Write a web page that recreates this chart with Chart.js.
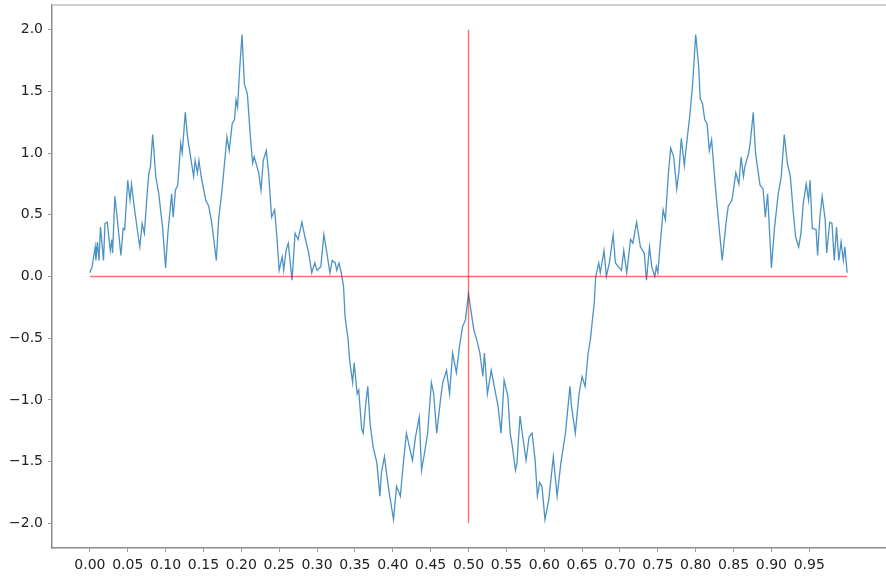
<!DOCTYPE html>
<html>
<head>
<meta charset="utf-8">
<script src="https://cdn.jsdelivr.net/npm/chart.js@4/dist/chart.umd.min.js"></script>
<style>
  html, body { margin: 0; padding: 0; background: #fff; }
  #wrap { width: 886px; height: 578px; }
</style>
</head>
<body>
<div id="wrap"><canvas id="curve"></canvas></div>
<script>
// curve points (x, y)
var curveX = [
  0.000,0.003,0.007,0.008,0.010,0.012,0.014,0.018,0.020,0.023,0.027,0.029,0.030,0.033,0.036,0.041,0.044,0.046,0.050,0.053,
  0.055,0.058,0.064,0.066,0.069,0.072,0.076,0.078,0.080,0.083,0.087,0.091,0.096,0.100,0.103,0.108,0.110,0.113,0.116,0.120,
  0.122,0.126,0.129,0.133,0.137,0.139,0.142,0.144,0.147,0.153,0.157,0.161,0.167,0.170,0.175,0.181,0.184,0.188,0.191,0.193,
  0.195,0.198,0.201,0.204,0.208,0.212,0.215,0.217,0.223,0.226,0.229,0.233,0.236,0.240,0.244,0.247,0.250,0.254,0.256,0.259,
  0.262,0.267,0.271,0.275,0.280,0.284,0.289,0.293,0.297,0.300,0.305,0.309,0.313,0.317,0.320,0.324,0.326,0.329,0.332,0.335,
  0.337,0.341,0.343,0.347,0.349,0.353,0.355,0.359,0.361,0.364,0.367,0.370,0.374,0.379,0.383,0.385,0.389,0.393,0.396,0.401,
  0.405,0.410,0.414,0.418,0.422,0.426,0.430,0.435,0.438,0.442,0.446,0.451,0.454,0.458,0.463,0.466,0.471,0.475,0.479,0.484,
  0.488,0.492,0.496,0.500,0.505,0.507,0.512,0.515,0.519,0.521,0.525,0.530,0.534,0.539,0.543,0.547,0.552,0.555,0.558,0.562,
  0.564,0.568,0.571,0.576,0.580,0.584,0.588,0.591,0.594,0.597,0.601,0.606,0.612,0.617,0.622,0.628,0.634,0.636,0.641,0.646,
  0.650,0.654,0.658,0.661,0.664,0.666,0.668,0.672,0.674,0.679,0.682,0.686,0.691,0.694,0.698,0.702,0.705,0.709,0.714,0.717,
  0.722,0.727,0.732,0.735,0.739,0.742,0.746,0.748,0.750,0.754,0.757,0.760,0.764,0.767,0.771,0.775,0.778,0.781,0.785,0.789,
  0.792,0.796,0.800,0.804,0.806,0.809,0.812,0.815,0.818,0.821,0.826,0.830,0.835,0.840,0.843,0.848,0.853,0.857,0.860,0.863,
  0.865,0.870,0.872,0.876,0.879,0.885,0.889,0.892,0.895,0.900,0.904,0.909,0.913,0.917,0.921,0.925,0.929,0.932,0.936,0.939,
  0.942,0.946,0.949,0.951,0.954,0.959,0.961,0.964,0.967,0.971,0.973,0.977,0.980,0.983,0.986,0.989,0.992,0.995,0.997,1.000
];
var curveY = [
  0.03,0.08,0.24,0.13,0.28,0.13,0.40,0.13,0.43,0.44,0.21,0.30,0.19,0.65,0.48,0.17,0.39,0.38,0.78,0.62,
  0.75,0.59,0.32,0.24,0.43,0.35,0.70,0.84,0.89,1.15,0.81,0.67,0.40,0.07,0.35,0.67,0.48,0.70,0.74,1.08,
  1.00,1.33,1.13,0.97,0.81,0.94,0.84,0.94,0.81,0.62,0.57,0.43,0.13,0.46,0.73,1.13,1.02,1.24,1.27,1.43,
  1.37,1.70,1.96,1.56,1.48,1.13,0.92,0.97,0.84,0.70,0.94,1.02,0.84,0.48,0.54,0.32,0.05,0.16,0.05,0.21,
  0.27,-0.03,0.35,0.30,0.44,0.32,0.19,0.03,0.11,0.05,0.08,0.34,0.19,0.03,0.13,0.11,0.05,0.11,0.03,-0.08,
  -0.33,-0.51,-0.68,-0.86,-0.70,-0.95,-0.92,-1.24,-1.27,-1.05,-0.89,-1.19,-1.38,-1.51,-1.78,-1.59,-1.46,-1.65,-1.78,-1.97,
  -1.70,-1.78,-1.51,-1.27,-1.38,-1.49,-1.30,-1.14,-1.57,-1.43,-1.27,-0.86,-0.95,-1.27,-1.00,-0.86,-0.76,-0.95,-0.62,-0.78,
  -0.57,-0.41,-0.35,-0.14,-0.35,-0.43,-0.54,-0.62,-0.81,-0.62,-0.95,-0.76,-0.89,-1.05,-1.27,-0.84,-0.97,-1.27,-1.38,-1.57,
  -1.51,-1.13,-1.27,-1.49,-1.30,-1.27,-1.49,-1.78,-1.67,-1.70,-1.97,-1.81,-1.46,-1.78,-1.51,-1.27,-0.89,-1.05,-1.27,-0.95,
  -0.81,-0.89,-0.62,-0.51,-0.33,-0.22,0.00,0.11,0.03,0.21,0.00,0.11,0.34,0.11,0.08,0.05,0.21,0.03,0.30,0.27,
  0.44,0.24,0.19,-0.03,0.24,0.08,0.00,0.08,0.03,0.32,0.54,0.46,0.84,1.04,0.97,0.71,0.86,1.12,0.90,1.13,
  1.29,1.56,1.96,1.70,1.44,1.40,1.27,1.24,1.02,1.11,0.73,0.46,0.13,0.43,0.57,0.62,0.84,0.75,0.97,0.81,
  0.89,1.00,1.08,1.33,1.00,0.74,0.71,0.48,0.67,0.07,0.39,0.67,0.81,1.15,0.92,0.81,0.51,0.32,0.24,0.35,
  0.59,0.75,0.62,0.78,0.39,0.38,0.17,0.48,0.65,0.46,0.19,0.44,0.43,0.13,0.40,0.13,0.28,0.13,0.24,0.03
];

// red guide lines
var hLineX = [0, 1];
var hLineY = [0, 0];
var vLineX = [0.5, 0.5];
var vLineY = [-2, 2];

var xTicks = [0,0.05,0.1,0.15,0.2,0.25,0.3,0.35,0.4,0.45,0.5,0.55,0.6,0.65,0.7,0.75,0.8,0.85,0.9,0.95];
var yTicks = [-2,-1.5,-1,-0.5,0,0.5,1,1.5,2];

function pairs(xs, ys){
  var out = [];
  for (var i = 0; i < xs.length; i++) out.push({x: xs[i], y: ys[i]});
  return out;
}

var topLine = {
  id: 'topLine',
  afterDraw: function(chart){
    var a = chart.chartArea, c = chart.ctx;
    c.save();
    c.strokeStyle = '#cfcfcf';
    c.lineWidth = 2;
    c.beginPath();
    c.moveTo(a.left, a.top);
    c.lineTo(chart.width, a.top);
    c.stroke();
    c.restore();
  }
};

new Chart(document.getElementById('curve'), {
  type: 'line',
  data: {
    datasets: [{
      data: pairs(hLineX, hLineY),
      borderColor: 'rgba(255,0,0,0.55)',
      borderWidth: 1.4,
      order: 0
    }, {
      data: pairs(vLineX, vLineY),
      borderColor: 'rgba(255,0,0,0.55)',
      borderWidth: 1.4,
      order: 0
    }, {
      data: pairs(curveX, curveY),
      borderColor: 'rgba(31,119,180,0.8)',
      borderWidth: 1.3,
      order: 1
    }]
  },
  options: {
    responsive: true,
    maintainAspectRatio: false,
    animation: false,
    layout: { padding: { top: 5, right: 1, left: 0, bottom: 0 } },
    elements: { point: { radius: 0 }, line: { tension: 0 } },
    plugins: { legend: { display: false }, tooltip: { enabled: false } },
    scales: {
      x: {
        type: 'linear',
        min: -0.05, max: 1.05,
        afterBuildTicks: function(axis){ axis.ticks = xTicks.map(function(v){ return {value: v}; }); },
        afterFit: function(axis){ axis.height = 30; axis.paddingLeft = 0; axis.paddingRight = 0; },
        ticks: {
          autoSkip: false, maxRotation: 0, padding: 5, color: '#222',
          font: { family: 'DejaVu Sans', size: 14 },
          callback: function(v){ return v.toFixed(2); }
        },
        grid: { drawOnChartArea: false, drawTicks: true, tickLength: 4, tickColor: '#999' },
        border: { color: '#8c8c8c', width: 1.5 }
      },
      y: {
        min: -2.2, max: 2.2,
        afterBuildTicks: function(axis){ axis.ticks = yTicks.map(function(v){ return {value: v}; }); },
        afterFit: function(axis){ axis.width = 52; axis.paddingTop = 0; axis.paddingBottom = 0; },
        ticks: {
          autoSkip: false, padding: 5, color: '#222',
          font: { family: 'DejaVu Sans', size: 14 },
          callback: function(v){ return (v < 0 ? '\u2212' : '') + Math.abs(v).toFixed(1); }
        },
        grid: { drawOnChartArea: false, drawTicks: true, tickLength: 4, tickColor: '#999' },
        border: { color: '#8c8c8c', width: 1.5 }
      }
    }
  },
  plugins: [topLine]
});
</script>
</body>
</html>
